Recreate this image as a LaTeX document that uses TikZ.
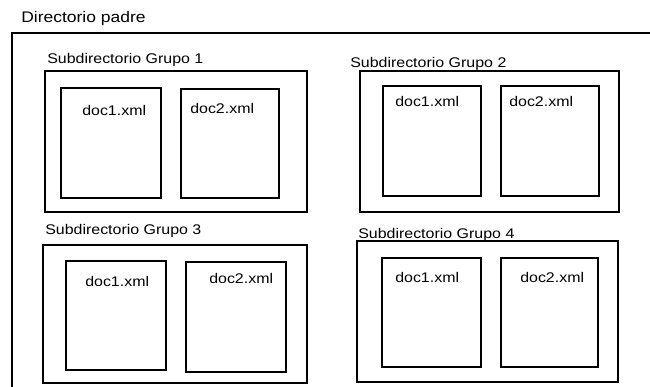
\documentclass[tikz,border=0pt]{standalone}
\usepackage{fontspec}
\setmainfont{Liberation Sans}[FakeStretch=1.14]
\usetikzlibrary{fit}
\begin{document}
\begin{tikzpicture}[x=0.75pt,y=-0.75pt,
  frame/.style={draw=black, line width=1.2pt, inner sep=0pt, outer sep=0pt},
  lbl/.style={anchor=base west, inner sep=0pt, font=\fontsize{10.5}{12}\selectfont},
  doclbl/.style={anchor=base west, inner sep=0pt, font=\fontsize{10.5}{12}\selectfont}]
\useasboundingbox (0,0) rectangle (650,386);
\clip (0,0) rectangle (650,386);

% parent directory (its right and bottom sides run off the page)
\node[lbl, font=\fontsize{11.5}{13}\selectfont] (padre) at (21,22) {Directorio padre};
\node[frame, fit={(12,33) (700,430)}] (outer) {};

% group 1
\node[lbl] (t1) at (47,63) {Subdirectorio Grupo 1};
\node[frame, fit={(45,71) (307,212)}] (g1) {};
\node[frame, fit={(61,88) (161,198)}] (g1a) {};
\node[frame, fit={(181,89) (279,198)}] (g1b) {};
\node[doclbl] (g1at) at (82,115) {doc1.xml};
\node[doclbl] (g1bt) at (190,113) {doc2.xml};

% group 2
\node[lbl] (t2) at (350,67) {Subdirectorio Grupo 2};
\node[frame, fit={(360,71) (619,212)}] (g2) {};
\node[frame, fit={(383,86) (481,196)}] (g2a) {};
\node[frame, fit={(501,86) (599,196)}] (g2b) {};
\node[doclbl] (g2at) at (395,106) {doc1.xml};
\node[doclbl] (g2bt) at (509,106) {doc2.xml};

% group 3
\node[lbl] (t3) at (45,234) {Subdirectorio Grupo 3};
\node[frame, fit={(43,245) (307,383)}] (g3) {};
\node[frame, fit={(66,261) (166,370)}] (g3a) {};
\node[frame, fit={(186,262) (286,372)}] (g3b) {};
\node[doclbl] (g3at) at (85,286) {doc1.xml};
\node[doclbl] (g3bt) at (209,283) {doc2.xml};

% group 4
\node[lbl] (t4) at (358,238) {Subdirectorio Grupo 4};
\node[frame, fit={(357,241) (618,382)}] (g4) {};
\node[frame, fit={(382,258) (481,367)}] (g4a) {};
\node[frame, fit={(501,258) (598,367)}] (g4b) {};
\node[doclbl] (g4at) at (395,282) {doc1.xml};
\node[doclbl] (g4bt) at (520,282) {doc2.xml};
\end{tikzpicture}
\end{document}
